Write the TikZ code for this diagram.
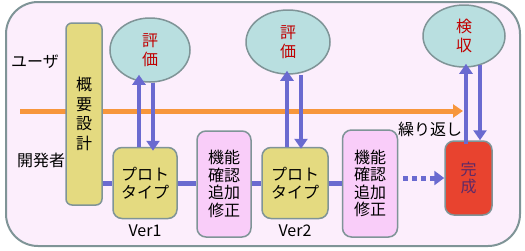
\documentclass[tikz,border=0pt]{standalone}
\usepackage{fontspec}
\setmainfont{Noto Sans CJK JP}
\usetikzlibrary{arrows.meta,shapes.geometric,positioning}

\definecolor{bgpink}{HTML}{FCEEFC}
\definecolor{edgegray}{HTML}{7F9497}
\definecolor{planyellow}{HTML}{E4DA80}
\definecolor{evalteal}{HTML}{B9DFE0}
\definecolor{checkpink}{HTML}{F9CDF9}
\definecolor{donered}{HTML}{E8432F}
\definecolor{flowblue}{HTML}{6A6AD0}
\definecolor{looporange}{HTML}{F7963C}
\definecolor{evalred}{HTML}{C00000}
\definecolor{donetext}{HTML}{5E2A66}

\tikzset{
  box/.style={draw=edgegray, line width=1.5pt, rounded corners=6pt, align=center,
    inner sep=0pt, font=\fontsize{16}{17.5}\selectfont},
  evalnode/.style={ellipse, draw=edgegray, line width=1.5pt, fill=evalteal, align=center,
    inner sep=0pt, text=evalred, font=\fontsize{16}{19.5}\selectfont},
  flowline/.style={flowblue, line width=5pt},
  vert/.style={flowblue, line width=4pt, -{Triangle[length=10pt,width=13pt]}},
  label/.style={font=\fontsize{16}{17}\selectfont},
}

\begin{document}
\begin{tikzpicture}[x=1pt, y=-1pt]
        \useasboundingbox (0,0) rectangle (525,250);
        % Hintergrund
        \draw[edgegray, line width=2pt, fill=bgpink, rounded corners=32pt] (6,2) rectangle (520,246);
        \node[label] (user) at (35,62) {ユーザ};
        \node[label] (dev) at (41,160) {開発者};
        % Schleife
        \coordinate (loopstart) at (20,111);
        \coordinate (loopend) at (463,111);
        \draw[looporange, line width=5pt, -{Triangle[length=10pt,width=13pt]}] (loopstart) -- (loopend);
        \node[label] (loopnote) at (430,129) {繰り返し};
        % Kaesten
        \node[box, fill=planyellow, minimum width=36pt, minimum height=182pt,
          font=\fontsize{16}{19.5}\selectfont] (plan) at (84,114) {概\\要\\設\\計};
        \node[box, fill=planyellow, rounded corners=9pt, minimum width=64pt, minimum height=71pt] (proto1) at (145,183) {プロト\\タイプ};
        \node[box, fill=checkpink, rounded corners=9pt, minimum width=54pt, minimum height=106pt] (chk1) at (224,184) {機能\\確認\\追加\\修正};
        \node[box, fill=planyellow, rounded corners=9pt, minimum width=66pt, minimum height=71pt] (proto2) at (295,183) {プロト\\タイプ};
        \node[box, fill=checkpink, rounded corners=9pt, minimum width=55pt, minimum height=107pt] (chk2) at (370,183.5) {機能\\確認\\追加\\修正};
        \node[box, fill=donered, rounded corners=9pt, minimum width=47pt, minimum height=74pt, text=donetext] (done) at (468.5,178) {完\\成};
        \node[label, below=2pt of proto1] (ver1) {Ver1};
        \node[label, below=2pt of proto2] (ver2) {Ver2};
        % Bewertung
        \node[evalnode, minimum width=80pt, minimum height=64pt] (eval1) at (150,50) {評\\価};
        \node[evalnode, minimum width=84pt, minimum height=64pt] (eval2) at (288,42) {評\\価};
        \node[evalnode, minimum width=82pt, minimum height=62pt] (accept) at (464,36) {検\\収};
        % Ablauf
        \draw[flowline] (plan.east |- proto1.west) -- (proto1.west);
        \draw[flowline] (proto1.east) -- (chk1.west |- proto1.east);
        \draw[flowline] (chk1.east |- proto2.west) -- (proto2.west);
        \draw[flowline] (proto2.east) -- (chk2.west |- proto2.east);
        \draw[flowblue, line width=5pt, dash pattern=on 5pt off 4pt, shorten <=5pt,
          -{Triangle[length=10pt,width=14pt]}] (chk2.east |- done.west) -- (done.west);
        % Pfeile hoch und runter
        \draw[vert, shorten >=-8pt] ([xshift=-6pt]proto1.north) -- ([xshift=-6pt]proto1.north |- eval1.south);
        \draw[vert, shorten >=-4pt] ([xshift=3pt]eval1.south) -- ([xshift=8pt]proto1.north);
        \draw[vert, shorten >=-4pt] ([xshift=-8pt]proto2.north) -- ([xshift=-8pt]proto2.north |- eval2.south);
        \draw[vert, shorten >=-2pt] ([xshift=13pt]eval2.south) -- ([xshift=6pt]proto2.north);
        \draw[vert, shorten >=-4pt, shorten <=-4pt] ([xshift=-2.5pt]done.north) -- ([xshift=-2.5pt]done.north |- accept.south);
        \draw[vert] ([xshift=16pt,yshift=3pt]accept.south) -- ([xshift=11.5pt]done.north);
      \end{tikzpicture}
\end{document}
